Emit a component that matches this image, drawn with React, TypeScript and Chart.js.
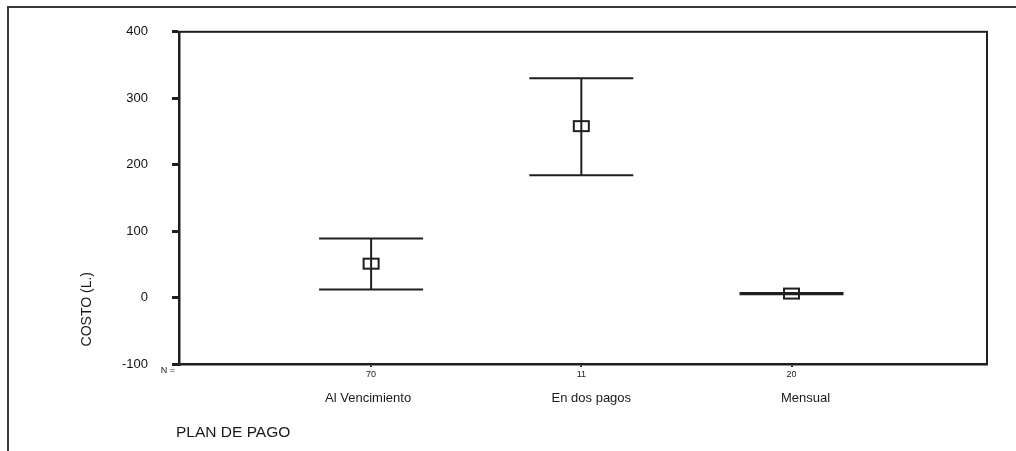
import React, { useEffect, useRef } from "react";
import { Chart, registerables } from "chart.js";

Chart.register(...registerables);

const categories = ["Al Vencimiento", "En dos pagos", "Mensual"];
const nCounts = ["70", "11", "20"];
const means = [51, 258, 6];
const lowerCI = [12, 184, 5];
const upperCI = [89, 330, 7];
const yTicks = [-100, 0, 100, 200, 300, 400];
const yTitle = "COSTO (L.)";
const xTitle = "PLAN DE PAGO";
const nLabel = "N =";

const FONT = "'Liberation Sans', Arial, sans-serif";
const INK = "#1f1f1f";

const framePlugin = {
  id: "framePlugin",
  beforeDraw(chart: any) {
    const ctx = chart.ctx;
    ctx.save();
    ctx.fillStyle = "#ffffff";
    ctx.fillRect(0, 0, chart.width, chart.height);
    ctx.strokeStyle = "#3a3a3a";
    ctx.lineWidth = 2;
    ctx.beginPath();
    ctx.moveTo(1016, 7);
    ctx.lineTo(8, 7);
    ctx.lineTo(8, 451);
    ctx.stroke();
    ctx.restore();
  },
  afterDraw(chart: any) {
    const ctx = chart.ctx;
    const a = chart.chartArea;
    const xs = chart.scales.x;
    const ys = chart.scales.y;
    ctx.save();
    // plot border
    ctx.strokeStyle = INK;
    ctx.lineWidth = 2;
    ctx.strokeRect(a.left, a.top, a.right - a.left, a.bottom - a.top);

    // error bars
    const capHalf = 52;
    const boxW = 15;
    const boxH = 10;
    for (let i = 0; i < categories.length; i++) {
      const px = xs.getPixelForValue(i + 1);
      const yLo = ys.getPixelForValue(lowerCI[i]);
      const yHi = ys.getPixelForValue(upperCI[i]);
      const yM = ys.getPixelForValue(means[i]);
      ctx.strokeStyle = INK;
      ctx.lineWidth = 2;
      ctx.beginPath();
      ctx.moveTo(px, yHi);
      ctx.lineTo(px, yLo);
      ctx.moveTo(px - capHalf, yHi);
      ctx.lineTo(px + capHalf, yHi);
      ctx.moveTo(px - capHalf, yLo);
      ctx.lineTo(px + capHalf, yLo);
      ctx.stroke();
      ctx.strokeRect(px - boxW / 2, yM - boxH / 2, boxW, boxH);
    }

    // category labels
    const labelOffsets = [-3, 10, 14];
    ctx.fillStyle = "#1a1a1a";
    ctx.font = `13px ${FONT}`;
    ctx.textAlign = "center";
    ctx.textBaseline = "middle";
    for (let i = 0; i < categories.length; i++) {
      const px = xs.getPixelForValue(i + 1);
      ctx.fillText(categories[i], px + labelOffsets[i], 398);
    }

    // N =
    ctx.font = `9px ${FONT}`;
    ctx.fillText(nLabel, a.left - 11, 371);

    // x title
    ctx.font = `15.5px ${FONT}`;
    ctx.textAlign = "left";
    ctx.fillText(xTitle, 176, 433);

    // y title
    ctx.font = `14px ${FONT}`;
    ctx.translate(87, 272);
    ctx.rotate(-Math.PI / 2);
    ctx.textAlign = "right";
    ctx.textBaseline = "middle";
    ctx.fillText(yTitle, 0, 0);
    ctx.restore();
  },
};

export default function App() {
  const ref = useRef<HTMLCanvasElement | null>(null);
  useEffect(() => {
    if (!ref.current) return;
    const chart = new Chart(ref.current, {
      type: "scatter",
      data: {
        datasets: [
          {
            data: means.map((m, i) => ({ x: i + 1, y: m })),
            pointRadius: 0,
            showLine: false,
          },
        ],
      },
      options: {
        responsive: false,
        animation: false,
        devicePixelRatio: 1,
        layout: { padding: { left: 0, top: 31, right: 29, bottom: 0 } },
        plugins: { legend: { display: false }, tooltip: { enabled: false } },
        scales: {
          x: {
            type: "linear",
            min: 0.086,
            max: 3.93,
            afterFit: (s: any) => {
              s.height = 451 - 364;
            },
            afterBuildTicks: (s: any) => {
              s.ticks = categories.map((_, i) => ({ value: i + 1 }));
            },
            border: { display: true, color: INK, width: 2.5 },
            grid: {
              drawOnChartArea: false,
              drawTicks: true,
              tickLength: 3,
              color: INK,
              lineWidth: 2,
            },
            ticks: {
              font: { size: 9, family: FONT },
              color: "#1a1a1a",
              padding: 2,
              maxRotation: 0,
              autoSkip: false,
              callback: (v: any) => nCounts[Math.round(Number(v)) - 1] ?? "",
            },
          },
          y: {
            type: "linear",
            min: -100,
            max: 400,
            afterFit: (s: any) => {
              s.width = 179;
            },
            afterBuildTicks: (s: any) => {
              s.ticks = yTicks.map((v) => ({ value: v }));
            },
            border: { display: true, color: INK, width: 2.5 },
            grid: {
              drawOnChartArea: false,
              drawTicks: true,
              tickLength: 7,
              color: INK,
              lineWidth: 3,
            },
            ticks: {
              font: { size: 13, family: FONT },
              color: "#111",
              padding: 24,
              callback: (v: any) => String(v),
            },
          },
        },
      },
      plugins: [framePlugin],
    });
    return () => chart.destroy();
  }, []);
  return (
    <div style={{ position: "fixed", left: 0, top: 0, width: 1016, height: 451, background: "#fff" }}>
      <canvas ref={ref} width={1016} height={451} style={{ width: 1016, height: 451, display: "block" }} />
    </div>
  );
}
